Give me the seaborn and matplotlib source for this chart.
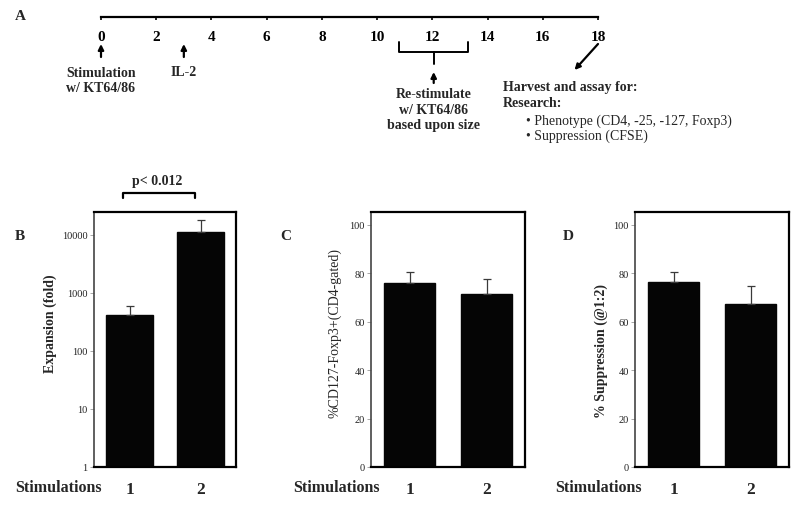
import matplotlib
matplotlib.use("Agg")
import matplotlib.pyplot as plt
import seaborn as sns
from matplotlib.ticker import FixedLocator, NullLocator

# data
days = [0, 2, 4, 6, 8, 10, 12, 14, 16, 18]
stim_day = 0
il2_day = 3
restim_window = [10.8, 13.3]
harvest_day = 18

stims = ["1", "2"]
expansion = [412, 11100]
expansion_err = [185, 7100]
phenotype = [76.0, 71.3]
phenotype_err = [4.4, 6.3]
suppression = [76.3, 67.2]
suppression_err = [4.1, 7.3]

log_ticks = [1, 10, 100, 1000, 10000]
pct_ticks = [0, 20, 40, 60, 80, 100]

sns.set_theme(style="white")
plt.rcParams["font.family"] = ["Liberation Serif", "DejaVu Serif"]

W, H = 800, 510
fig = plt.figure(figsize=(8, 5.1), dpi=100)


def box(x0, y0, x1, y1):
    # pixel box -> figure fraction
    return [x0 / W, 1 - y1 / H, (x1 - x0) / W, (y1 - y0) / H]


# ---- panel A: timeline ----
axt = fig.add_axes(box(101, 18, 598, 140))
axt.set_xlim(days[0], days[-1])
axt.set_ylim(122, 0)
for s in ["top", "left", "right"]:
    axt.spines[s].set_visible(False)
axt.spines["bottom"].set_position(("data", 0))
axt.spines["bottom"].set_color("black")
axt.spines["bottom"].set_linewidth(1.6)
axt.xaxis.set_major_locator(FixedLocator(days))
axt.set_xticklabels([str(d) for d in days], fontweight="bold", fontsize=11)
axt.tick_params(axis="x", direction="out", length=2.5, width=1.2, pad=7, bottom=True, colors="black")
axt.set_yticks([])
axt.patch.set_alpha(0)

arrow = dict(arrowstyle="-|>", color="black", lw=1.6, mutation_scale=8, shrinkA=0, shrinkB=0)
bold = dict(fontweight="bold", fontsize=10, ha="center", va="center")

axt.annotate("", xy=(stim_day, 27), xytext=(stim_day, 40), arrowprops=arrow)
axt.text(stim_day, 63, "Stimulation\nw/ KT64/86", linespacing=1.25, **bold)

axt.annotate("", xy=(il2_day, 27), xytext=(il2_day, 40), arrowprops=arrow)
axt.text(il2_day, 55, "IL-2", **bold)

mid = sum(restim_window) / 2
axt.plot([restim_window[0], restim_window[0], restim_window[1], restim_window[1]],
         [25, 35, 35, 25], color="black", lw=1.4, clip_on=False)
axt.plot([mid, mid], [35, 47], color="black", lw=1.4, clip_on=False)
axt.annotate("", xy=(mid, 55), xytext=(mid, 66), arrowprops=arrow, annotation_clip=False)
axt.text(mid, 92, "Re-stimulate\nw/ KT64/86\nbased upon size", linespacing=1.25, clip_on=False, **bold)

axt.annotate("", xy=(harvest_day - 0.85, 53), xytext=(harvest_day, 27), arrowprops=arrow,
             annotation_clip=False)
axt.text(14.57, 70, "Harvest and assay for:", fontweight="bold", fontsize=10, ha="left", va="center")
axt.text(14.57, 85.5, "Research:", fontweight="bold", fontsize=10, ha="left", va="center")
axt.text(15.4, 103.5, "\u2022 Phenotype (CD4, -25, -127, Foxp3)", fontsize=10, ha="left", va="center",
         clip_on=False)
axt.text(15.4, 118.5, "\u2022 Suppression (CFSE)", fontsize=10, ha="left", va="center", clip_on=False)

fig.text(15 / W, 1 - 17 / H, "A", fontweight="bold", fontsize=11, va="center", ha="left")


# ---- panels B, C, D ----
def bar_panel(px, vals, errs, ylabel, label_bold, label_pos, stim_x):
    ax = fig.add_axes(box(px[0], 213, px[1], 468))
    sns.barplot(x=stims, y=vals, color="#050505", saturation=1, width=0.67,
                errorbar=None, ax=ax, edgecolor="#050505")
    ax.errorbar(range(len(vals)), vals, yerr=[[0] * len(errs), errs], fmt="none",
                ecolor="#3a3a3a", elinewidth=0.9, capsize=3, capthick=0.9)
    ax.set_xlim(-0.5, 1.5)
    for s in ax.spines.values():
        s.set_color("black")
        s.set_linewidth(1.6)
        s.set_visible(True)
    ax.spines["left"].set_color("#444444")
    ax.spines["left"].set_linewidth(1.2)
    ax.set_xticks(range(len(stims)))
    ax.set_xticklabels(stims, fontweight="bold", fontsize=12.5)
    ax.tick_params(axis="x", length=0, pad=10)
    ax.tick_params(axis="y", left=True, direction="out", length=3, width=0.6,
                   colors="#999999", labelcolor="#222222", labelsize=7.5, pad=1.5)
    ax.set_xlabel("")
    ax.set_ylabel(ylabel, fontsize=10, fontweight="bold" if label_bold else "normal")
    ax.yaxis.set_label_coords(*label_pos)
    ax.text(stim_x, -0.078, "Stimulations", transform=ax.transAxes, fontweight="bold",
            fontsize=11.5, ha="left", va="center")
    return ax


axb = bar_panel((94, 236), expansion, expansion_err, "Expansion (fold)", True, (-0.26, 0.565), -0.556)
axb.set_yscale("log")
axb.set_ylim(1, 24700)
axb.yaxis.set_major_locator(FixedLocator(log_ticks))
axb.yaxis.set_minor_locator(NullLocator())
axb.set_yticklabels([str(t) for t in log_ticks])
axb.tick_params(axis="y", which="minor", length=0)

# significance bracket
axb.plot([-0.09, -0.09, 0.92, 0.92], [1.055, 1.073, 1.073, 1.055], color="black", lw=1.6,
         transform=axb.get_xaxis_transform(), clip_on=False)
axb.text(0.39, 1.125, "p< 0.012", transform=axb.get_xaxis_transform(), fontweight="bold",
         fontsize=10, ha="center", va="center")

axc = bar_panel((371, 525), phenotype, phenotype_err, "%CD127-Foxp3+(CD4-gated)", False,
                (-0.19, 0.53), -0.506)
axc.set_ylim(0, 105.2)
axc.set_yticks(pct_ticks)
axc.set_yticklabels([str(t) for t in pct_ticks])

axd = bar_panel((635, 789), suppression, suppression_err, "% Suppression (@1:2)", True,
                (-0.175, 0.46), -0.52)
axd.set_ylim(0, 105.2)
axd.set_yticks(pct_ticks)
axd.set_yticklabels([str(t) for t in pct_ticks])

for letter, (x, y) in zip("BCD", [(15, 236), (280, 237), (563, 237)]):
    fig.text(x / W, 1 - y / H, letter, fontweight="bold", fontsize=11, va="center", ha="left")

fig.savefig("out.png", dpi=100)
